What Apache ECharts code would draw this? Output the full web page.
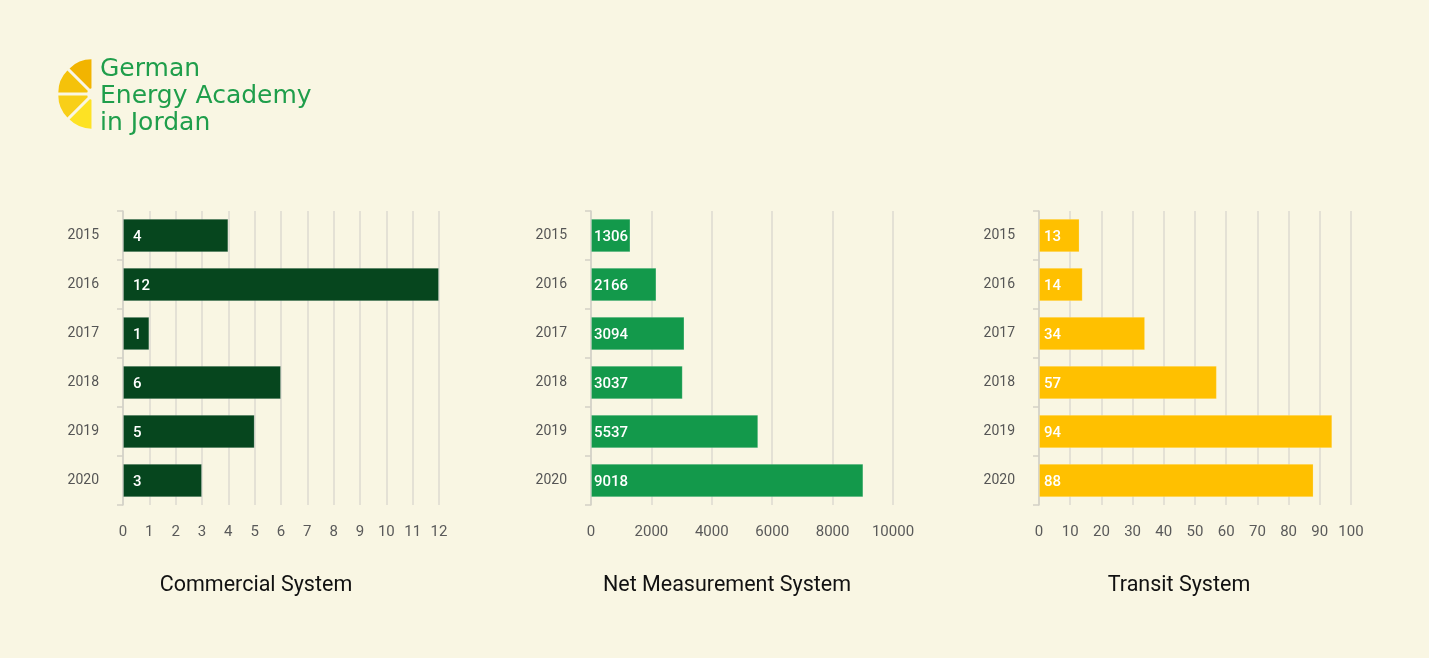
<!DOCTYPE html>
<html>
<head>
<meta charset="utf-8">
<script src="https://cdn.jsdelivr.net/npm/echarts@6/dist/echarts.min.js"></script>
<style>
html,body{margin:0;padding:0;background:#f9f6e3;}
#c{width:1429px;height:658px;}
</style>
</head>
<body>
<div id="c"></div>
<script>
const years = ['2015','2016','2017','2018','2019','2020'];
const commercial = [4, 12, 1, 6, 5, 3];
const netMeasurement = [1306, 2166, 3094, 3037, 5537, 9018];
const transit = [13, 14, 34, 57, 94, 88];
const chartTitles = ['Commercial System', 'Net Measurement System', 'Transit System'];
const logoLines = ['German', 'Energy Academy', 'in Jordan'];

const FONT = "Roboto, 'DejaVu Sans', sans-serif";
const colors = ['#06461e', '#13994b', '#ffc000'];
const grids = [
  {left: 123, width: 316, top: 211, height: 294},
  {left: 591, width: 302, top: 211, height: 294},
  {left: 1039, width: 312, top: 211, height: 294}
];
const axisCfg = [
  {max: 12, interval: 1, labelOffset: 10},
  {max: 10000, interval: 2000, labelOffset: 3},
  {max: 100, interval: 10, labelOffset: 5}
];
const dataSets = [commercial, netMeasurement, transit];
const titleCenters = [251, 722, 1174];

const chart = echarts.init(document.getElementById('c'), null, {renderer: 'canvas'});

const xAxes = [], yAxes = [], series = [], titles = [];
for (let i = 0; i < 3; i++) {
  xAxes.push({
    type: 'value', gridIndex: i, min: 0, max: axisCfg[i].max, interval: axisCfg[i].interval,
    axisLine: {show: false}, axisTick: {show: false},
    axisLabel: {color: '#5a5a5a', fontSize: 15, fontFamily: FONT, margin: 20, formatter: v => String(v)},
    splitLine: {show: true, lineStyle: {color: '#dcdad0', width: 1.5}}
  });
  yAxes.push({
    type: 'category', gridIndex: i, data: years, inverse: true,
    axisLine: {show: true, lineStyle: {color: '#d3d1c6', width: 1.5}},
    axisTick: {show: true, length: 6, lineStyle: {color: '#d3d1c6', width: 1.5}},
    axisLabel: {color: '#555555', fontSize: 14, fontFamily: FONT, margin: 24, padding: [5, 0, 0, 0]}
  });
  series.push({
    type: 'bar', xAxisIndex: i, yAxisIndex: i, data: dataSets[i],
    barCategoryGap: '32%',
    itemStyle: {color: colors[i], borderColor: 'rgba(255,255,255,0.18)', borderWidth: 1},
    label: {show: true, position: 'insideLeft', offset: [axisCfg[i].labelOffset - 5, 2], color: '#ffffff',
            fontSize: 15, fontFamily: FONT, fontWeight: 500},
    silent: true
  });
  titles.push({
    text: chartTitles[i], left: titleCenters[i], top: 570, textAlign: 'center',
    textStyle: {color: '#111111', fontSize: 21.5, fontWeight: 'normal', fontFamily: FONT}
  });
}

// logo: exploded half-circle of four wedges
const cx = 93, cy = 94, R = 31, off = 4;
const wedgeColors = ['#fde224', '#f8cf18', '#f5c20a', '#f2b400'];
const graphics = [];
const d2r = Math.PI / 180;
for (let k = 0; k < 4; k++) {
  const a0 = 90 + k * 45, a1 = a0 + 45, mid = (a0 + a1) / 2 * d2r;
  graphics.push({
    type: 'sector', silent: true,
    shape: {cx: cx + off * Math.cos(mid), cy: cy + off * Math.sin(mid), r: R, r0: 2,
            startAngle: a0 * d2r, endAngle: a1 * d2r},
    style: {fill: wedgeColors[k]}
  });
}
logoLines.forEach((t, j) => {
  graphics.push({
    type: 'text', left: 100, top: 57 + j * 27, silent: true,
    style: {text: t, fill: '#1f9e4b', fontSize: 25, fontFamily: "'DejaVu Sans', sans-serif"}
  });
});

chart.setOption({
  backgroundColor: '#f9f6e3',
  animation: false,
  title: titles,
  grid: grids,
  xAxis: xAxes,
  yAxis: yAxes,
  series: series,
  graphic: graphics
});
</script>
</body>
</html>
